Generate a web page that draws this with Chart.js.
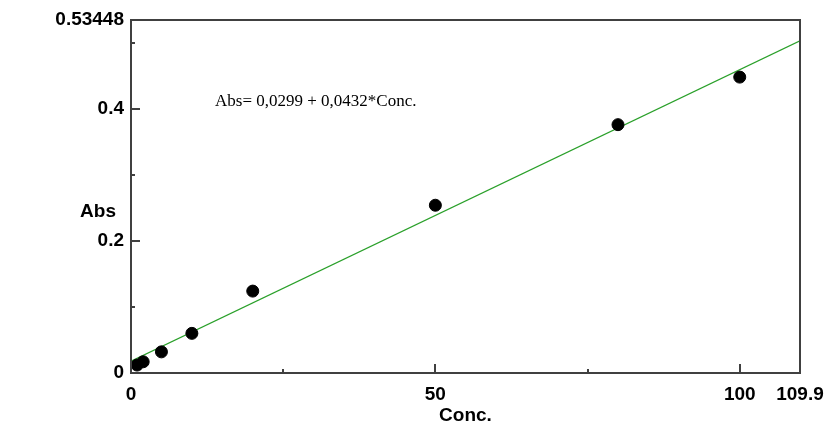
<!DOCTYPE html>
<html><head><meta charset="utf-8">
<style>html,body{margin:0;padding:0;background:#fff}#wrap{width:827px;height:425px}</style>
<script src="https://cdn.jsdelivr.net/npm/chart.js@4.4.1/dist/chart.umd.min.js"></script>
</head><body><div id="wrap"><canvas id="c" width="827" height="425"></canvas></div>
<script>
const conc = [1, 2, 5, 10, 20, 50, 80, 100];
const absValues = [0.012, 0.017, 0.032, 0.060, 0.124, 0.254, 0.376, 0.448];
const fitConc = [0, 109.9];
const fitAbs = [0.018, 0.503];
const xTicks = [0, 25, 50, 75, 100, 109.9];
const xTickLabels = ['0', '', '50', '', '100', '109.9'];
const yTicks = [0, 0.1, 0.2, 0.3, 0.4, 0.5, 0.53448];
const yTickLabels = ['0', '', '0.2', '', '0.4', '', '0.53448'];
const xTitle = 'Conc.';
const yTitle = 'Abs';
const equation = 'Abs= 0,0299 + 0,0432*Conc.';

const tickFont = {family: '"Liberation Sans", Arial, sans-serif', size: 19, weight: 'bold'};

const framePlugin = {
  id: 'frame',
  afterDraw(chart) {
    const {ctx, chartArea: a, scales} = chart;
    ctx.save();
    ctx.strokeStyle = '#404040';
    ctx.lineWidth = 2;
    ctx.strokeRect(a.left, a.top, a.right - a.left, a.bottom - a.top);
    xTicks.forEach((v, i) => {
      if (i === 0 || i === xTicks.length - 1) return;
      const len = xTickLabels[i] ? 9 : 4;
      const px = Math.round(scales.x.getPixelForValue(v));
      ctx.beginPath(); ctx.moveTo(px, a.bottom); ctx.lineTo(px, a.bottom - len); ctx.stroke();
    });
    yTicks.forEach((v, i) => {
      if (i === 0 || i === yTicks.length - 1) return;
      const len = yTickLabels[i] ? 9 : 4;
      const py = Math.round(scales.y.getPixelForValue(v));
      ctx.beginPath(); ctx.moveTo(a.left, py); ctx.lineTo(a.left + len, py); ctx.stroke();
    });
    ctx.fillStyle = '#000';
    ctx.font = 'bold 19px "Liberation Sans", Arial, sans-serif';
    ctx.textAlign = 'center'; ctx.textBaseline = 'middle';
    ctx.fillText(yTitle, 98, 212);
    ctx.font = '17px "Liberation Serif", "Times New Roman", serif';
    ctx.textAlign = 'left'; ctx.textBaseline = 'alphabetic';
    ctx.fillText(equation, 215, 106);
    ctx.restore();
  }
};

new Chart(document.getElementById('c'), {
  type: 'scatter',
  data: {
    datasets: [
      {
        label: 'data',
        data: conc.map((c, i) => ({x: c, y: absValues[i]})),
        backgroundColor: '#000', borderColor: '#000',
        pointRadius: 6, pointHoverRadius: 6, order: 0
      },
      {
        label: 'fit',
        data: fitConc.map((c, i) => ({x: c, y: fitAbs[i]})),
        showLine: true, borderColor: '#2aa02a', borderWidth: 1.2,
        pointRadius: 0, fill: false, order: 1
      }
    ]
  },
  options: {
    responsive: false, animation: false, devicePixelRatio: 1,
    layout: {padding: {top: 20, right: 27, left: 0, bottom: 0}},
    plugins: {legend: {display: false}, tooltip: {enabled: false}},
    scales: {
      x: {
        type: 'linear', min: 0, max: 109.9,
        afterBuildTicks: s => { s.ticks = xTicks.map(v => ({value: v})); },
        afterFit: s => { s.height = 52; s.paddingLeft = 0; s.paddingRight = 0; },
        ticks: {callback: (v, i) => xTickLabels[i], autoSkip: false, maxRotation: 0,
          color: '#000', font: tickFont, padding: 10},
        grid: {display: false, drawTicks: false},
        border: {display: false},
        title: {display: true, text: xTitle, color: '#000',
          font: Object.assign({}, tickFont, {lineHeight: 1}), padding: {top: 0, bottom: 0}}
      },
      y: {
        type: 'linear', min: 0, max: 0.53448,
        afterBuildTicks: s => { s.ticks = yTicks.map(v => ({value: v})); },
        afterFit: s => { s.width = 131; },
        ticks: {callback: (v, i) => yTickLabels[i], autoSkip: false,
          color: '#000', font: tickFont, padding: 7},
        grid: {display: false, drawTicks: false},
        border: {display: false}
      }
    }
  },
  plugins: [framePlugin]
});
</script></body></html>
